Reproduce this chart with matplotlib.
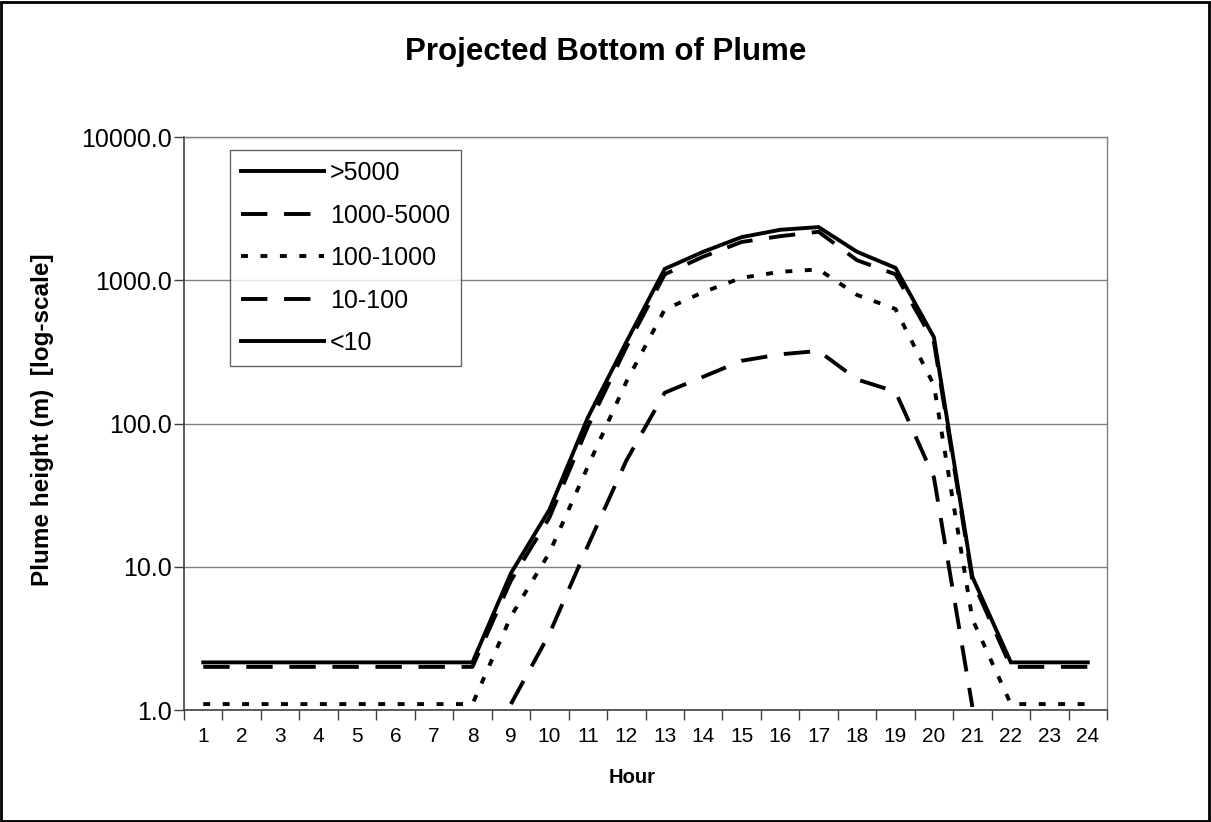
import numpy as np
import matplotlib
matplotlib.use('Agg')
import matplotlib.pyplot as plt
from matplotlib.patches import Rectangle

plt.rcParams['font.family'] = ['Liberation Sans', 'DejaVu Sans']
plt.rcParams['lines.scale_dashes'] = False

nan = np.nan
hours = list(range(1, 25))
series_names = ['>5000', '1000-5000', '100-1000', '10-100', '<10']

# plume bottom height (m) per hour; values below 1 m are not shown
h_gt5000 = [2.15] * 8 + [9, 25, 110, 370, 1200, 1580, 2000, 2250, 2350,
                         1580, 1220, 400, 8.5, 2.15, 2.15, 2.15]
h_1000_5000 = [2.0] * 8 + [8, 22, 95, 340, 1100, 1460, 1850, 2030, 2180,
                           1380, 1100, 370, 8, 2.0, 2.0, 2.0]
h_100_1000 = [1.1] * 8 + [4.5, 12.5, 50, 195, 625, 826, 1040, 1145, 1190,
                          790, 630, 185, 4.3, 1.1, 1.1, 1.1]
h_10_100 = [nan] * 8 + [1.1, 3.4, 14, 55, 164, 212, 274, 304, 321,
                        203, 167, 42, 1.05, nan, nan, nan]
h_lt10 = [nan] * 24

yticks = [1, 10, 100, 1000, 10000]

W, H = 1211, 822
fig = plt.figure(figsize=(W / 100, H / 100), dpi=100)
ax = fig.add_axes([184 / W, 1 - 710 / H, (1107 - 184) / W, (710 - 137) / H])

styles = [
    dict(ls='-'),
    dict(ls=(0, (19, 12))),
    dict(ls=(0, (5, 9))),
    dict(ls=(0, (19, 12))),
    dict(ls='-'),
]
data = [h_gt5000, h_1000_5000, h_100_1000, h_10_100, h_lt10]
for name, vals, st in zip(series_names, data, styles):
    ax.plot(hours, vals, color='black', lw=2.8, label=name,
            dash_capstyle='butt', solid_joinstyle='miter', **st)

ax.set_yscale('log')
ax.set_ylim(1, 10000)
ax.set_xlim(0.5, 24.5)
ax.set_yticks(yticks)
ax.set_yticklabels([f'{v:.1f}' for v in yticks])
ax.yaxis.set_minor_locator(matplotlib.ticker.NullLocator())
ax.set_xticks(hours)
ax.set_xticklabels([str(h) for h in hours])
ax.set_xticks(np.arange(0.5, 25, 1), minor=True)
ax.tick_params(axis='x', which='major', length=0, labelsize=15, pad=12)
ax.tick_params(axis='x', which='minor', length=7, width=1, color='#404040')
ax.tick_params(axis='y', which='major', length=7, width=1, color='#404040',
               labelsize=18, pad=2)
ax.grid(axis='y', color='#808080', lw=1)
ax.set_axisbelow(True)
for s in ['top', 'right']:
    ax.spines[s].set_color('#808080')
    ax.spines[s].set_linewidth(1)
for s in ['left', 'bottom']:
    ax.spines[s].set_color('#404040')
    ax.spines[s].set_linewidth(1.2)

leg = ax.legend(loc='upper left', bbox_to_anchor=(230 / W, 1 - 150 / H),
                bbox_transform=fig.transFigure, fontsize=18, frameon=True,
                fancybox=False, edgecolor='#404040', handlelength=3.3,
                handletextpad=0.25, labelspacing=0.74, borderpad=0.45,
                borderaxespad=0)
leg.get_frame().set_linewidth(1)

fig.text(606 / W, 1 - 52 / H, 'Projected Bottom of Plume', ha='center',
         va='center', fontsize=22.5, fontweight='bold')
fig.text(43 / W, 1 - 420 / H, 'Plume height (m)  [log-scale]', ha='center',
         va='center', rotation=90, fontsize=17.5, fontweight='bold')
fig.text(632 / W, 1 - 777 / H, 'Hour', ha='center', va='center',
         fontsize=14.5, fontweight='bold')

fig.add_artist(Rectangle((1 / W, 1 / H), 1 - 3 / W, 1 - 3 / H,
                         transform=fig.transFigure, fill=False,
                         edgecolor='black', lw=2))

fig.savefig('out.png', dpi=100)
